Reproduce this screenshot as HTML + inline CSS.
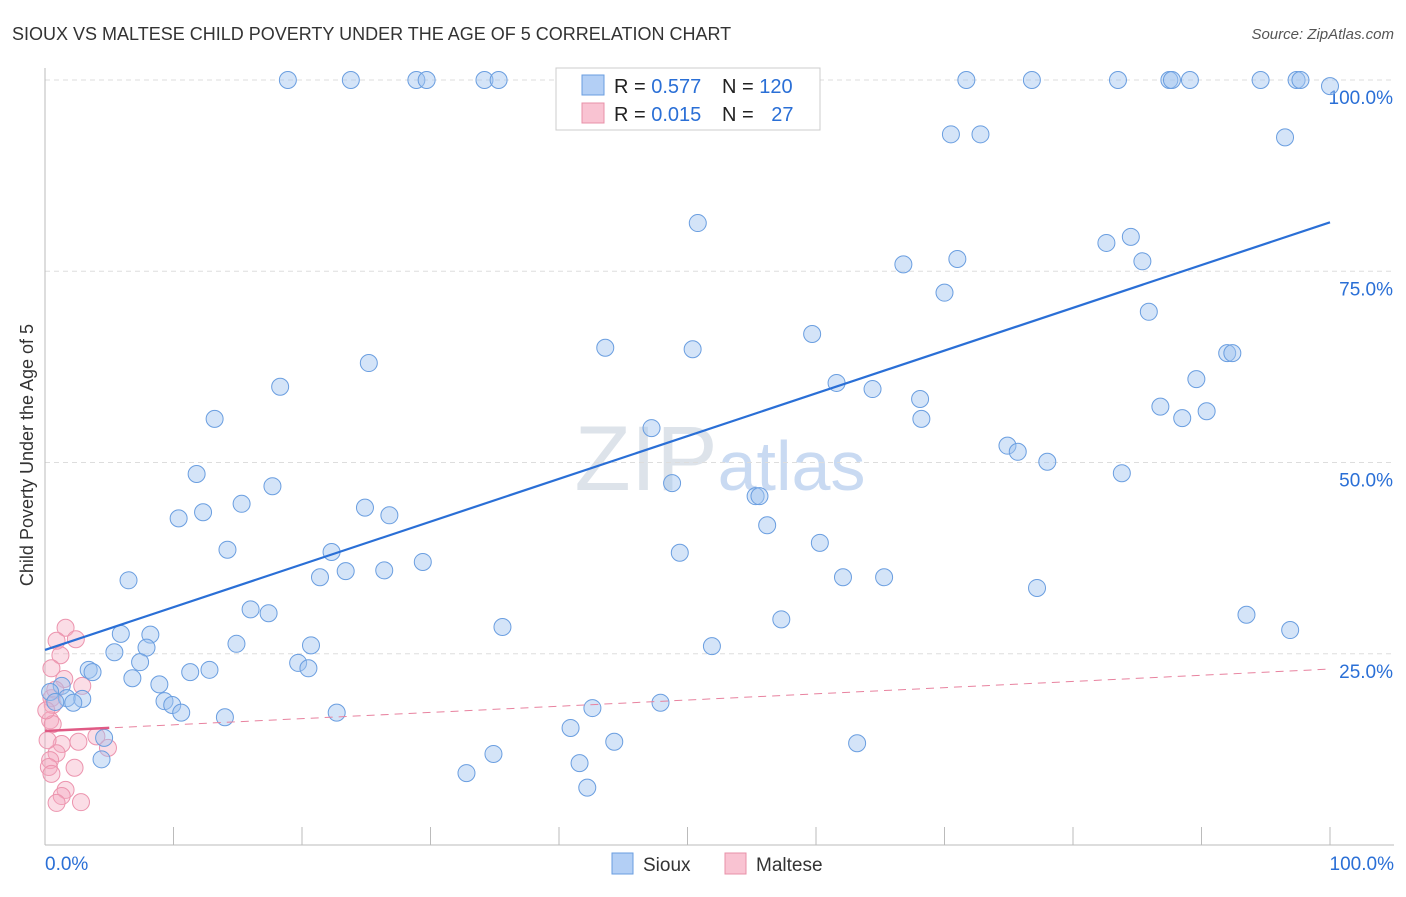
<!DOCTYPE html>
<html><head><meta charset="utf-8"><style>
body{margin:0;background:#fff;font-family:"Liberation Sans",sans-serif;}
svg text{font-family:"Liberation Sans",sans-serif;}
</style></head><body>
<svg id="c" width="1406" height="892">
<text x="12" y="40" font-size="18" fill="#333">SIOUX VS MALTESE CHILD POVERTY UNDER THE AGE OF 5 CORRELATION CHART</text>
<text x="1394" y="39" font-size="15" fill="#555" font-style="italic" text-anchor="end">Source: ZipAtlas.com</text>
<text x="720" y="490" font-size="92" fill="#dde3ea" text-anchor="middle" font-family="Liberation Serif">ZIP<tspan fill="#c9daf2" font-family="Liberation Sans" font-size="70">atlas</tspan></text>
<text transform="translate(33,455) rotate(-90)" font-size="18" fill="#333" text-anchor="middle">Child Poverty Under the Age of 5</text>
<g id="grid"></g><g id="marks"></g>
<g>
<rect x="556" y="68" width="264" height="62" fill="#fff" stroke="#ccc"/>
<rect x="582" y="75" width="22" height="20" fill="#b3cff5" stroke="#6a9ee0"/>
<rect x="582" y="103" width="22" height="20" fill="#f9c3d2" stroke="#e890a8"/>
<text x="614" y="93" font-size="20" fill="#222">R = <tspan fill="#2a6fd6">0.577</tspan></text>
<text x="722" y="93" font-size="20" fill="#222">N = <tspan fill="#2a6fd6">120</tspan></text>
<text x="614" y="121" font-size="20" fill="#222">R = <tspan fill="#2a6fd6">0.015</tspan></text>
<text x="722" y="121" font-size="20" fill="#222">N = <tspan fill="#2a6fd6" dx="12">27</tspan></text>
</g>
<g>
<rect x="612" y="853" width="21" height="21" fill="#b3cff5" stroke="#6a9ee0"/>
<text x="643" y="871" font-size="19" fill="#333">Sioux</text>
<rect x="725" y="853" width="21" height="21" fill="#f9c3d2" stroke="#e890a8"/>
<text x="756" y="871" font-size="19" fill="#333">Maltese</text>
</g>
</svg>
<script>
const yTicks=[100,75,50,25];
const yTickLabels=["100.0%","75.0%","50.0%","25.0%"];
const xTickLabels=["0.0%","100.0%"];
const siouxX=[18.9,23.8,28.9,29.7,34.2,35.3,43.4,48.8,54.4,71.7,76.8,83.5,87.5,87.7,89.1,94.6,97.4,97.7,100,70.5,72.8,96.5,50.8,82.6,84.5,85.4,66.8,71.0,70.0,85.9,59.7,43.6,50.4,92.0,92.4,25.2,18.3,61.6,89.6,64.4,68.1,68.2,13.2,47.2,86.8,88.5,90.4,74.9,75.7,78.0,83.8,11.8,48.8,17.7,55.3,55.6,15.3,12.3,24.9,10.4,26.8,56.2,14.2,60.3,22.3,49.4,29.4,6.5,21.4,23.4,26.4,62.1,65.3,77.2,16.0,17.4,93.5,57.3,96.9,35.6,5.9,8.2,51.9,14.9,7.9,20.7,5.4,7.4,19.7,20.5,3.4,3.7,11.3,12.8,6.8,8.9,1.3,0.4,1.7,0.8,2.9,2.2,9.3,9.9,10.6,14.0,22.7,47.9,42.6,40.9,4.6,44.3,63.2,34.9,4.4,41.6,32.8,42.2];
const siouxY=[100,100,100,100,100,100,100,100,100,100,100,100,100,100,100,100,100,100,99.2,92.9,92.9,92.5,81.3,78.7,79.5,76.3,75.9,76.6,72.2,69.7,66.8,65.0,64.8,64.3,64.3,63.0,59.9,60.4,60.9,59.6,58.3,55.7,55.7,54.5,57.3,55.8,56.7,52.2,51.4,50.1,48.6,48.5,47.3,46.9,45.6,45.6,44.6,43.5,44.1,42.7,43.1,41.8,38.6,39.5,38.3,38.2,37.0,34.6,35.0,35.8,35.9,35.0,35.0,33.6,30.8,30.3,30.1,29.5,28.1,28.5,27.6,27.5,26.0,26.3,25.8,26.1,25.2,23.9,23.8,23.1,22.9,22.6,22.6,22.9,21.8,21.0,20.8,20.0,19.2,18.7,19.1,18.6,18.8,18.3,17.3,16.7,17.3,18.6,17.9,15.3,14.0,13.5,13.3,11.9,11.2,10.7,9.4,7.5];
const malteseX=[1.6,0.9,2.4,1.2,1.5,2.9,0.5,0.6,0.4,0.6,4.0,4.9,1.3,2.6,0.9,0.4,0.3,2.3,0.5,1.6,1.3,0.9,2.8,0.5,0.8,0.2,0.1];
const malteseY=[28.4,26.7,26.9,24.8,21.7,20.8,19.2,18.3,16.3,15.8,14.2,12.7,13.2,13.5,12.0,11.1,10.2,10.1,9.3,7.2,6.4,5.5,5.6,23.1,20.3,13.7,17.6];
const siouxTrend=[25.5,81.4];
const malteseTrend=[14.9,23.0];
const NS="http://www.w3.org/2000/svg";
const X=v=>45+v*12.85, Y=v=>845-v*7.65;
function mk(tag,attrs,parent){const e=document.createElementNS(NS,tag);for(const k in attrs)e.setAttribute(k,attrs[k]);parent.appendChild(e);return e;}
const grid=document.getElementById('grid'), marks=document.getElementById('marks');
yTicks.forEach((t,i)=>{
 const l=mk('line',{x1:45,x2:1394,y1:Y(t),y2:Y(t),stroke:'#ddd','stroke-dasharray':'5,4'},grid);
 
 
 const tx=mk('text',{x:1393,y:Y(t)+24,'font-size':19,fill:'#2a6fd6','text-anchor':'end'},grid);
 tx.textContent=yTickLabels[i];
 
 
});
const ax=mk('line',{x1:45,x2:45,y1:68,y2:845,stroke:'#bbb'},grid);


const bx=mk('line',{x1:45,x2:1394,y1:845,y2:845,stroke:'#bbb'},grid);


for(let i=0;i<=10;i++){
 const t=mk('line',{x1:X(i*10),x2:X(i*10),y1:827,y2:845,stroke:'#bbb'},grid);
 
 
}
[[0,'start',45],[100,'end',1394]].forEach((d,i)=>{
 const tx=mk('text',{x:d[2],y:870,'font-size':19,fill:'#2a6fd6','text-anchor':d[1]},grid);
 tx.textContent=xTickLabels[i];
 
 
});
malteseX.forEach((x,i)=>{
 const c=mk('circle',{cx:X(x),cy:Y(malteseY[i]),r:8.5,fill:'rgba(245,170,192,0.4)',stroke:'#ec94ae','stroke-width':1},marks);
 
 
});
siouxX.forEach((x,i)=>{
 const c=mk('circle',{cx:X(x),cy:Y(siouxY[i]),r:8.5,fill:'rgba(160,195,240,0.45)',stroke:'#6a9ee0','stroke-width':1},marks);
 
 
});
const tl=mk('line',{x1:X(0),y1:Y(siouxTrend[0]),x2:X(100),y2:Y(siouxTrend[1]),stroke:'#2a6fd6','stroke-width':2.2},marks);


const pd=mk('line',{x1:X(0),y1:Y(malteseTrend[0]),x2:X(100),y2:Y(malteseTrend[1]),stroke:'#e8829f','stroke-width':1,'stroke-dasharray':'8,6'},marks);


const ps=mk('line',{x1:X(0),y1:Y(malteseTrend[0]),x2:X(5),y2:Y(malteseTrend[0]+(malteseTrend[1]-malteseTrend[0])*0.05),stroke:'#e05a85','stroke-width':2.5},marks);


</script>
</body></html>
